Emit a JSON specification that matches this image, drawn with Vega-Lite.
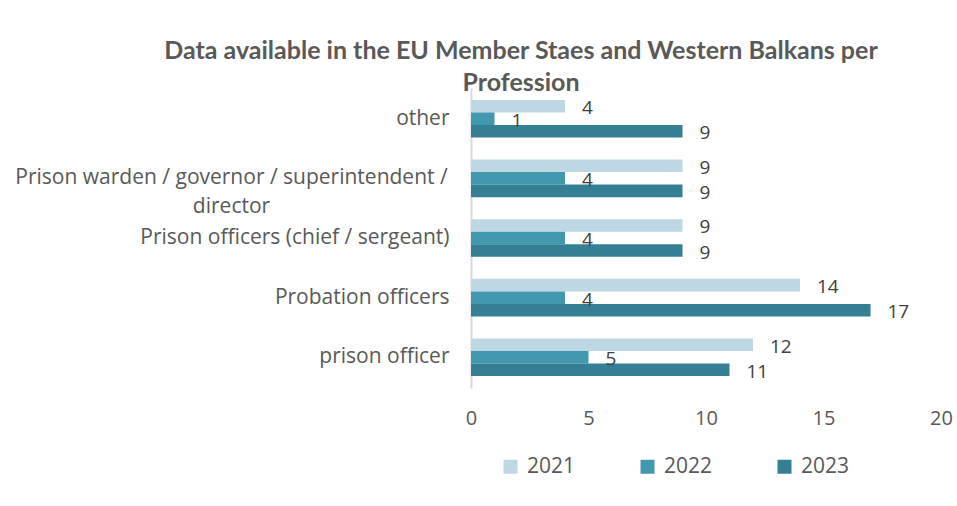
{
  "$schema": "https://vega.github.io/schema/vega-lite/v6.json",
  "width": 470,
  "height": 300,
  "autosize": {"type": "none"},
  "padding": {"left": 471, "top": 88, "right": 16, "bottom": 118},
  "background": "white",
  "title": {
    "text": ["Data available in the EU Member Staes and Western Balkans per", "Profession"],
    "font": "Lato",
    "fontSize": 25,
    "fontWeight": "bold",
    "color": "#595959",
    "anchor": "middle",
    "dx": -185,
    "offset": -8,
    "lineHeight": 32
  },
  "data": {
    "values": [
      {"profession": "other", "year": "2021", "value": 4},
      {"profession": "other", "year": "2022", "value": 1},
      {"profession": "other", "year": "2023", "value": 9},
      {"profession": "Prison warden / governor / superintendent / director", "year": "2021", "value": 9},
      {"profession": "Prison warden / governor / superintendent / director", "year": "2022", "value": 4},
      {"profession": "Prison warden / governor / superintendent / director", "year": "2023", "value": 9},
      {"profession": "Prison officers (chief / sergeant)", "year": "2021", "value": 9},
      {"profession": "Prison officers (chief / sergeant)", "year": "2022", "value": 4},
      {"profession": "Prison officers (chief / sergeant)", "year": "2023", "value": 9},
      {"profession": "Probation officers", "year": "2021", "value": 14},
      {"profession": "Probation officers", "year": "2022", "value": 4},
      {"profession": "Probation officers", "year": "2023", "value": 17},
      {"profession": "prison officer", "year": "2021", "value": 12},
      {"profession": "prison officer", "year": "2022", "value": 5},
      {"profession": "prison officer", "year": "2023", "value": 11}
    ]
  },
  "encoding": {
    "y": {
      "field": "profession",
      "type": "nominal",
      "sort": ["other", "Prison warden / governor / superintendent / director", "Prison officers (chief / sergeant)", "Probation officers", "prison officer"],
      "scale": {"paddingInner": 0.37, "paddingOuter": 0.2},
      "axis": {
        "title": null,
        "ticks": false,
        "domain": true,
        "domainColor": "#d9d9d9",
        "domainWidth": 2,
        "labelFont": "Open Sans",
        "labelFontSize": 21,
        "labelColor": "#595959",
        "labelPadding": {"condition": {"test": "indexof(datum.label, 'warden') >= 0", "value": 240}, "value": 22},
        "labelAlign": {"condition": {"test": "indexof(datum.label, 'warden') >= 0", "value": "center"}, "value": "right"},
        "labelLimit": 600,
        "labelLineHeight": 29,
        "labelExpr": "datum.label == 'Prison warden / governor / superintendent / director' ? ['Prison warden / governor / superintendent /', 'director'] : datum.label"
      }
    },
    "yOffset": {
      "field": "year",
      "type": "nominal",
      "sort": ["2021", "2022", "2023"],
      "scale": {"paddingInner": 0, "paddingOuter": 0}
    },
    "x": {
      "field": "value",
      "type": "quantitative",
      "scale": {"domain": [0, 20]},
      "axis": {
        "title": null,
        "values": [0, 5, 10, 15, 20],
        "grid": false,
        "ticks": false,
        "domain": false,
        "labelFont": "Open Sans",
        "labelFontSize": 20,
        "labelColor": "#595959",
        "labelPadding": 20,
        "labelFlush": false
      }
    }
  },
  "layer": [
    {
      "mark": {"type": "bar"},
      "encoding": {
        "color": {
          "field": "year",
          "type": "nominal",
          "scale": {"domain": ["2021", "2022", "2023"], "range": ["#BDD7E4", "#4198AF", "#357F94"]},
          "legend": {
            "title": null,
            "orient": "none",
            "legendX": 29,
            "legendY": 368,
            "direction": "horizontal",
            "symbolType": "square",
            "symbolSize": 196,
            "symbolStrokeWidth": 0,
            "labelFont": "Open Sans",
            "labelFontSize": 21,
            "labelColor": "#595959",
            "labelOffset": 6,
            "columnPadding": 61
          }
        }
      }
    },
    {
      "mark": {"type": "text", "align": "left", "baseline": "middle", "dx": 17, "dy": 2, "font": "Open Sans", "fontSize": 19, "color": "#404040"},
      "encoding": {
        "text": {"field": "value", "type": "quantitative"}
      }
    }
  ],
  "config": {"view": {"stroke": null}}
}
